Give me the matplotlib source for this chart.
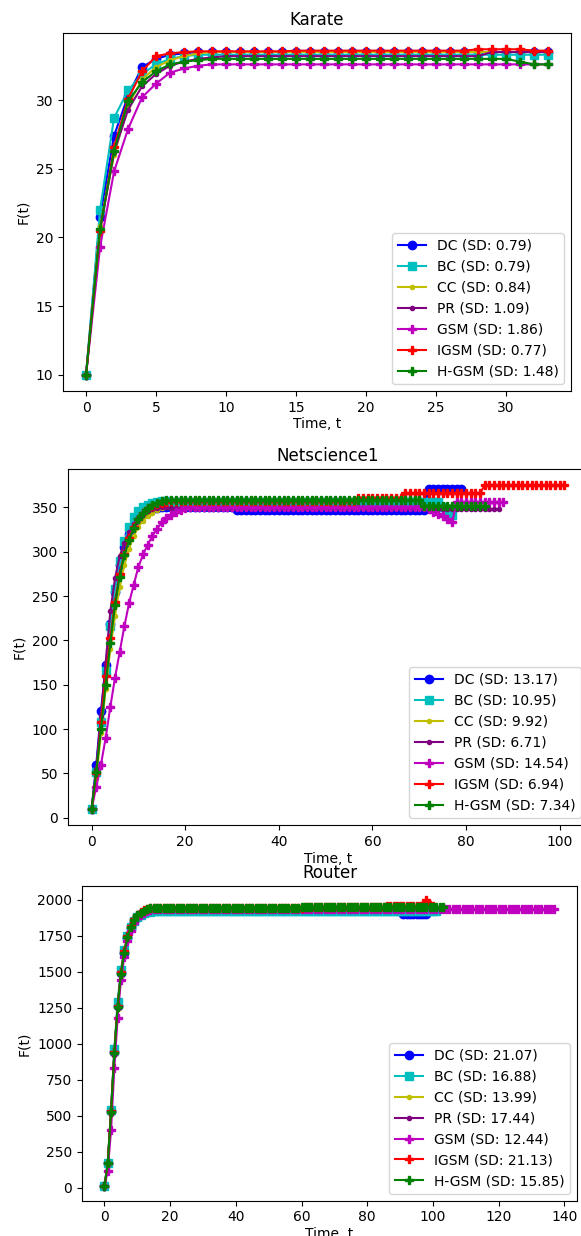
import matplotlib
matplotlib.use('Agg')
import matplotlib.pyplot as plt
import numpy as np

# ---------------- Karate ----------------
karate_dc = [10, 21.5, 27.4, 30.3, 32.4, 33.0, 33.3, 33.4, 33.5, 33.5] + [33.5] * 24
karate_bc = [10, 22.0, 28.7, 30.7, 31.9, 32.6, 33.0, 33.2, 33.3, 33.3] + [33.3] * 24
karate_cc = [10, 20.8, 26.0, 29.6, 31.5, 32.4, 32.9, 33.2, 33.4, 33.5] + [33.5] * 24
karate_pr = [10, 20.5, 26.2, 29.3, 31.0, 31.9, 32.5, 32.8, 33.0, 33.1] + [33.2] * 19 + [33.5] * 5
karate_gsm = [10, 19.3, 24.8, 27.9, 30.2, 31.2, 32.0, 32.3, 32.5, 32.6] + [32.6] * 24
karate_igsm = [10, 20.5, 26.6, 30.1, 32.1, 33.2, 33.4, 33.5, 33.55, 33.55] + [33.55] * 5 + [33.6] * 13 + [33.7] * 4 + [33.6] * 2
karate_hgsm = [10, 20.6, 26.3, 29.9, 31.3, 32.1, 32.6, 32.8, 32.9, 33.0] + [33.0] * 21 + [32.8, 32.6, 32.6]
karate_sd = [0.79, 0.79, 0.84, 1.09, 1.86, 0.77, 1.48]

# ---------------- Netscience1 ----------------
net_dc = ([10, 60, 120, 172, 219, 255, 285, 305, 320, 331, 338, 343, 346, 348, 349, 350, 351]
          + [350] * 14 + [347] * 41 + [371] * 8)
net_bc = ([10, 52, 108, 165, 216, 258, 290, 312, 328, 339, 346, 350, 353, 355, 356, 357, 357]
          + [356] * 58 + [350, 342, 342])
net_cc = ([10, 45, 95, 145, 190, 228, 260, 285, 303, 318, 328, 335, 340, 344, 347, 349, 350]
          + [349] * 59)
net_pr = ([10, 55, 115, 175, 233, 270, 295, 310, 322, 331, 338, 343, 346, 348, 349, 350, 350]
          + [349] * 55 + [348] * 16)
net_gsm = ([10, 35, 60, 90, 125, 158, 187, 216, 242, 263, 283, 297, 308, 318, 326, 333, 338,
            342, 345, 347, 349, 350] + [350] * 50
           + [348, 345, 343, 340, 337, 333] + [356] * 11)
net_igsm = ([10, 50, 108, 160, 203, 243, 275, 298, 315, 328, 337, 344, 349, 352, 354, 355, 356]
            + [357] * 40 + [361] * 10 + [366] * 17 + [375] * 18)
net_hgsm = ([10, 52, 100, 150, 197, 240, 272, 296, 313, 327, 337, 344, 349, 353, 355, 357, 358]
            + [358] * 54 + [352] * 14)
net_sd = [13.17, 10.95, 9.92, 6.71, 14.54, 6.94, 7.34]

# ---------------- Router ----------------
rt_dc = ([10, 170, 530, 940, 1260, 1490, 1630, 1735, 1805, 1850, 1880, 1898, 1910, 1918, 1922]
         + [1925] * 76 + [1900] * 8)
rt_bc = ([10, 175, 540, 960, 1290, 1510, 1650, 1745, 1810, 1852, 1878, 1895, 1905, 1912, 1916]
         + [1918] * 87)
rt_cc = ([10, 165, 510, 920, 1240, 1470, 1620, 1725, 1795, 1845, 1878, 1900, 1915, 1925, 1930]
         + [1935] * 81)
rt_pr = ([10, 168, 515, 925, 1245, 1475, 1625, 1730, 1800, 1848, 1880, 1902, 1916, 1926, 1931]
         + [1935] * 82)
rt_gsm = ([10, 120, 400, 830, 1180, 1440, 1600, 1710, 1785, 1840, 1872, 1895, 1910, 1920, 1927]
          + [1933] * 123)
rt_igsm = ([10, 175, 535, 945, 1265, 1495, 1640, 1745, 1815, 1862, 1893, 1912, 1925, 1933, 1938]
           + [1943] * 46 + [1948] * 25 + [1955] * 11 + [1965, 1995, 1960, 1955])
rt_hgsm = ([10, 170, 525, 935, 1255, 1485, 1630, 1738, 1810, 1858, 1890, 1910, 1923, 1932, 1938]
           + [1943] * 45 + [1950] * 16 + [1945] * 28)
rt_sd = [21.07, 16.88, 13.99, 17.44, 12.44, 21.13, 15.85]

methods = ['DC', 'BC', 'CC', 'PR', 'GSM', 'IGSM', 'H-GSM']
styles = [('b', 'o'), ('c', 's'), ('y', '.'), ('purple', '.'), ('m', 'P'), ('r', 'P'), ('g', 'P')]


def draw_panel(ax, series, sds, title):
    for name, vals, sd, (col, mk) in zip(methods, series, sds, styles):
        t = np.arange(len(vals))
        ax.plot(t, vals, color=col, marker=mk, label=f'{name} (SD: {sd:.2f})')
    ax.set_title(title)
    ax.set_xlabel('Time, t', labelpad=2)
    ax.set_ylabel('F(t)')
    ax.legend(loc='lower right')


fig = plt.figure(figsize=(5.81, 12.36), dpi=100)

ax1 = fig.add_axes([0.1084, 0.6837, 0.8744, 0.2896])
draw_panel(ax1, [karate_dc, karate_bc, karate_cc, karate_pr, karate_gsm, karate_igsm, karate_hgsm],
           karate_sd, 'Karate')

ax2 = fig.add_axes([0.117, 0.3325, 0.895, 0.2880])
draw_panel(ax2, [net_dc, net_bc, net_cc, net_pr, net_gsm, net_igsm, net_hgsm],
           net_sd, 'Netscience1')

ax3 = fig.add_axes([0.1411, 0.0285, 0.852, 0.2547])
draw_panel(ax3, [rt_dc, rt_bc, rt_cc, rt_pr, rt_gsm, rt_igsm, rt_hgsm],
           rt_sd, 'Router')

fig.savefig('out.png', dpi=100)
